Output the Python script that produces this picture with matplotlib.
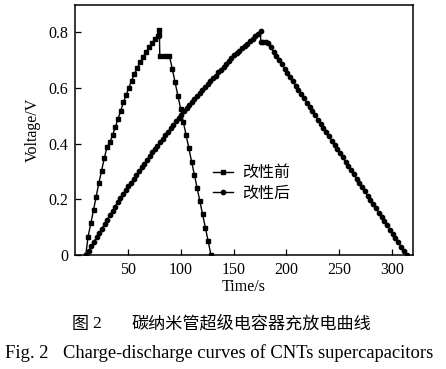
import matplotlib
matplotlib.use("Agg")
import matplotlib.pyplot as plt

# 改性前 (squares): charge, IR drop, short plateau, discharge
t_before = [10.2, 12.4, 15.0, 17.5, 20.0, 22.6, 25.1, 27.7, 30.3, 33.0,
            35.6, 38.2, 40.7, 43.2, 45.8, 48.4, 50.9, 53.5, 56.1, 58.7,
            61.6, 64.5, 67.3, 70.1, 72.9, 75.6, 78.2, 79.6, 79.8,
            80.2, 84.7,
            89.3, 92.1, 94.7, 97.3, 99.9, 102.5, 105.1, 107.7, 110.3, 112.9,
            115.5, 118.1, 120.7, 123.3, 125.9, 128.6]
v_before = [0.000, 0.066, 0.114, 0.161, 0.209, 0.259, 0.302, 0.347, 0.388, 0.405,
            0.430, 0.460, 0.488, 0.517, 0.548, 0.574, 0.600, 0.626, 0.648, 0.670,
            0.691, 0.711, 0.729, 0.745, 0.760, 0.776, 0.785, 0.789, 0.807,
            0.714, 0.714,
            0.714, 0.667, 0.619, 0.572, 0.525, 0.477, 0.430, 0.383, 0.335, 0.288,
            0.241, 0.193, 0.146, 0.098, 0.051, 0.000]

# 改性后 (circles)
t_after = [10.5, 13.0, 15.5, 18.0, 20.5, 23.0, 25.5, 28.0, 30.5, 33.0,
           35.5, 38.0, 40.5, 43.0, 45.5, 48.0, 50.5, 53.0, 55.5, 58.0,
           60.5, 63.0, 65.5, 68.0, 70.5, 73.0, 75.5, 78.0, 80.5, 83.0,
           85.5, 88.0, 90.5, 93.0, 95.5, 98.0, 100.5, 103.0, 105.5, 108.0,
           110.5, 113.0, 115.5, 118.0, 120.5, 123.0, 125.5, 128.0, 130.5, 133.0,
           135.5, 138.0, 140.5, 143.0, 145.5, 148.0, 150.5, 153.0, 155.5, 158.0,
           160.5, 163.0, 165.5, 168.0, 170.5, 173.0, 175.5,
           175.7, 178.0, 180.3,
           182.6, 185.2, 187.8, 190.5, 193.1, 195.7, 198.3, 200.9, 203.6, 206.2,
           208.8, 211.4, 214.0, 216.7, 219.3, 221.9, 224.5, 227.1, 229.8, 232.4,
           235.0, 237.6, 240.2, 242.9, 245.5, 248.1, 250.7, 253.3, 256.0, 258.6,
           261.2, 263.8, 266.4, 269.1, 271.7, 274.3, 276.9, 279.5, 282.2, 284.8,
           287.4, 290.0, 292.6, 295.3, 297.9, 300.5, 303.1, 305.7, 308.4, 311.0,
           313.6]
v_after = [0.000, 0.016, 0.032, 0.048, 0.063, 0.079, 0.095, 0.111, 0.127, 0.143,
           0.158, 0.174, 0.190, 0.206, 0.219, 0.233, 0.246, 0.260, 0.273, 0.287,
           0.300, 0.314, 0.327, 0.341, 0.354, 0.368, 0.380, 0.392, 0.405, 0.417,
           0.430, 0.442, 0.455, 0.467, 0.479, 0.492, 0.504, 0.516, 0.527, 0.537,
           0.548, 0.559, 0.569, 0.580, 0.591, 0.601, 0.612, 0.623, 0.634, 0.644,
           0.655, 0.665, 0.676, 0.687, 0.697, 0.708, 0.716, 0.724, 0.733, 0.741,
           0.750, 0.758, 0.767, 0.775, 0.784, 0.792, 0.805,
           0.765, 0.766, 0.763,
           0.760, 0.745, 0.730, 0.714, 0.699, 0.684, 0.669, 0.654, 0.638, 0.623,
           0.608, 0.593, 0.578, 0.562, 0.547, 0.532, 0.517, 0.502, 0.486, 0.471,
           0.456, 0.441, 0.426, 0.410, 0.395, 0.380, 0.365, 0.350, 0.334, 0.319,
           0.304, 0.289, 0.274, 0.258, 0.243, 0.228, 0.213, 0.198, 0.182, 0.167,
           0.152, 0.137, 0.122, 0.106, 0.091, 0.076, 0.061, 0.046, 0.030, 0.015,
           0.000]

labels = ["改性前", "改性后"]
xticks = [50, 100, 150, 200, 250, 300]
yticks = [0, 0.2, 0.4, 0.6, 0.8]
ytick_labels = ["0", "0.2", "0.4", "0.6", "0.8"]

serif = "Liberation Serif"
cjk = ["Noto Sans CJK SC", "DejaVu Sans"]

fig = plt.figure(figsize=(4.46, 3.69), dpi=100)
ax = fig.add_axes([75 / 446, 1 - 255 / 369, (413.3 - 75) / 446, 250 / 369])

ax.plot(t_before, v_before, "k-", lw=1.0, marker="s", ms=3.3, mfc="k", mec="k", label=labels[0])
ax.plot(t_after, v_after, "k-", lw=1.0, marker="o", ms=3.1, mfc="k", mec="k", label=labels[1])

ax.set_xlim(0, 320)
ax.set_ylim(0, 0.897)
ax.set_xticks(xticks)
ax.set_yticks(yticks)
ax.set_yticklabels(ytick_labels)
ax.tick_params(direction="in", length=4, width=0.9, labelsize=11.5)
ax.tick_params(axis="x", pad=5)
ax.tick_params(axis="y", pad=5)
for lab in ax.get_xticklabels() + ax.get_yticklabels():
    lab.set_fontfamily(serif)
for sp in ax.spines.values():
    sp.set_linewidth(1.1)

ax.set_xlabel("Time/s", fontfamily=serif, fontsize=11.5, labelpad=1)
ax.set_ylabel("Voltage/V", fontfamily=serif, fontsize=11.5, labelpad=5)

ax.legend(loc="center left", bbox_to_anchor=((213 - 75) / 338.3, (255 - 183) / 250),
          frameon=False, prop={"family": cjk, "size": 11.5}, handlelength=1.25,
          handletextpad=0.55, labelspacing=0.2, borderpad=0, borderaxespad=0, numpoints=1)

fig.text(72 / 446, 1 - 323.5 / 369, "图", fontfamily=cjk, fontsize=12.3, va="center", ha="left")
fig.text(92 / 446, 1 - 323.5 / 369, "2", fontfamily=serif, fontsize=12.5, va="center", ha="left")
fig.text(131 / 446, 1 - 323.5 / 369, "碳纳米管超级电容器充放电曲线", fontfamily=cjk, fontsize=12.3,
         va="center", ha="left")
fig.text(5 / 446, 1 - 353 / 369, "Fig. 2", fontfamily=serif, fontsize=13.3, va="center", ha="left")
fig.text(63 / 446, 1 - 353 / 369, "Charge-discharge curves of CNTs supercapacitors",
         fontfamily=serif, fontsize=13.3, va="center", ha="left")

fig.savefig("out.png", dpi=100)
